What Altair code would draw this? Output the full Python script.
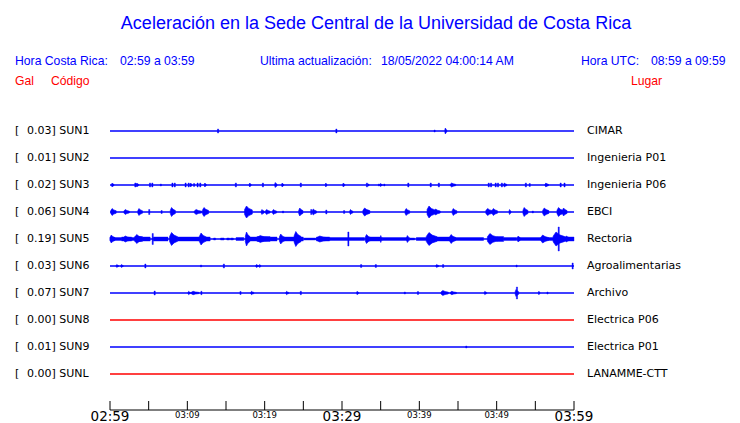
import altair as alt
import pandas as pd

# ---------------- data ----------------
codes = ["SUN1", "SUN2", "SUN3", "SUN4", "SUN5", "SUN6", "SUN7", "SUN8", "SUN9", "SUNL"]
gal = ["0.03", "0.01", "0.02", "0.06", "0.19", "0.03", "0.07", "0.00", "0.01", "0.00"]
places = ["CIMAR", "Ingenieria P01", "Ingenieria P06", "EBCI", "Rectoria",
          "Agroalimentarias", "Archivo", "Electrica P06", "Electrica P01", "LANAMME-CTT"]

# bursts per station: [start minute, end minute, peak half amplitude (counts)]
sun1 = [[13.9, 14.05, 2], [29.2, 29.35, 2], [41.9, 42.05, 1], [43.3, 43.55, 3]]
sun2 = []
sun3 = [[0.2, 0.5, 2], [3.2, 3.35, 2], [3.4, 3.7, 2], [5.1, 5.25, 2], [5.4, 5.55, 2], [6.5, 6.65, 1],
        [8.0, 8.15, 2], [8.3, 8.45, 2], [9.7, 9.85, 2], [10.1, 10.25, 2], [10.35, 10.6, 2],
        [10.8, 10.95, 1.5], [11.25, 11.4, 2], [11.6, 11.75, 2], [12.2, 12.45, 2], [16.2, 16.35, 2],
        [18.0, 18.25, 2], [19.7, 19.85, 2], [21.3, 21.6, 2.5], [22.2, 22.45, 2], [24.6, 24.75, 2],
        [27.85, 28.05, 2], [30.1, 30.35, 2], [33.15, 33.3, 2], [33.35, 33.5, 1], [34.7, 34.85, 1],
        [34.9, 35.2, 1.5], [35.4, 35.55, 1], [38.5, 38.65, 2], [41.4, 41.55, 2], [42.45, 42.6, 2],
        [44.0, 44.7, 2], [48.9, 49.05, 2], [49.2, 49.35, 2], [49.8, 49.95, 2], [50.1, 50.25, 2],
        [50.6, 50.75, 2], [50.9, 51.3, 2], [53.7, 53.85, 2], [54.2, 54.35, 1.5], [56.25, 56.7, 2],
        [58.2, 58.35, 2], [58.7, 58.85, 2]]
sun4 = [[0.1, 0.8, 3.5], [1.8, 2.5, 2.5], [3.6, 4.2, 3.5], [5.0, 5.15, 2.5], [6.6, 6.75, 1.5],
        [7.8, 8.45, 4.5], [10.9, 11.85, 2.5], [11.95, 12.75, 4.5], [17.4, 18.4, 6],
        [19.55, 19.95, 2.5], [20.1, 20.7, 2.5], [21.0, 21.55, 2.5], [22.3, 22.45, 1], [24.4, 24.95, 4],
        [25.95, 26.1, 2.5], [26.15, 26.7, 3], [27.9, 28.05, 2], [30.2, 30.35, 1.5], [31.0, 31.4, 2.5],
        [32.7, 33.6, 4], [38.15, 38.75, 3.5], [41.0, 42.0, 6], [41.9, 42.7, 3],
        [44.25, 44.85, 3.5], [48.6, 49.5, 3.5], [49.4, 50.1, 3.5], [51.6, 51.85, 2.5], [53.4, 54.05, 4.5],
        [54.6, 54.75, 1], [55.95, 56.75, 4], [57.8, 58.6, 4.5], [58.5, 59.1, 4]]
# continuous band of the Rectoria station: [start, end, half amplitude]
sun5_band = [[0.0, 1.5, 1.5], [1.5, 2.8, 2], [2.8, 3.2, 1.5], [3.2, 4.2, 2.5], [4.2, 5.2, 2],
             [5.6, 7.5, 2], [8.7, 11.6, 2], [12.4, 12.95, 2], [13.4, 13.65, 1], [14.3, 14.75, 1],
             [15.1, 15.45, 1], [15.6, 15.95, 1], [16.3, 17.3, 1.5], [18.0, 19.0, 2], [19.0, 20.7, 2.5],
             [20.7, 21.6, 2], [22.5, 23.9, 2], [24.6, 25.0, 2], [25.1, 26.6, 1], [26.7, 28.4, 2],
             [28.4, 32.9, 1.5], [33.6, 35.0, 2], [35.2, 38.4, 1.5], [38.8, 39.4, 1], [39.6, 41.0, 1.5],
             [42.2, 44.0, 2], [44.6, 48.3, 1.5], [50.0, 50.9, 2.5], [50.9, 52.6, 1.5], [52.7, 53.0, 2],
             [53.0, 55.8, 1.5], [56.6, 57.5, 1.5], [58.6, 60.0, 2]]
sun5 = [[0.0, 0.65, 4], [1.7, 2.8, 3], [3.2, 4.2, 4.5], [5.45, 5.6, 5.5], [7.7, 8.75, 6.5],
        [11.55, 12.45, 6], [17.5, 18.1, 7], [19.0, 20.7, 3.5], [21.9, 22.6, 5], [23.8, 24.7, 7.5],
        [26.7, 28.4, 3], [30.75, 30.9, 7], [33.0, 33.7, 4.5], [34.95, 35.2, 3.5], [38.35, 38.75, 3.5],
        [40.9, 42.3, 6.5], [43.9, 44.7, 4.5], [48.8, 50.1, 5.5], [52.7, 53.0, 3], [55.7, 56.7, 4],
        [57.3, 58.8, 7], [57.95, 58.1, 12], [58.8, 59.6, 3]]
sun6 = [[0.8, 1.1, 1.5], [1.4, 1.7, 1.5], [4.5, 4.65, 2], [11.7, 11.85, 1], [14.65, 14.8, 2],
        [18.85, 19.2, 1.5], [19.3, 19.5, 1.5], [32.4, 32.55, 1.5], [34.3, 34.45, 1.5],
        [42.15, 42.5, 1.5], [43.0, 43.15, 1.5], [52.5, 52.65, 1], [59.75, 59.9, 3]]
sun7 = [[5.7, 5.85, 2], [10.1, 10.4, 1.7], [10.5, 11.5, 1.7], [11.75, 11.9, 1.7], [16.8, 16.95, 1.5],
        [18.2, 18.6, 1.7], [22.75, 23.1, 1.7], [24.6, 24.75, 1.7], [31.9, 32.15, 1.7],
        [38.05, 38.2, 1], [39.75, 39.9, 1.5], [42.8, 43.75, 2.5], [44.0, 44.8, 1.7], [48.4, 48.7, 1.7],
        [52.4, 52.85, 3.5], [52.55, 52.7, 6], [55.4, 55.6, 1.7], [56.5, 56.65, 1]]
sun8 = []
sun9 = [[46.0, 46.15, 1]]
sunl = []

tick_minutes = [0, 5, 10, 15, 20, 25, 30, 35, 40, 45, 50, 55, 60]
major_minutes = [0, 30, 60]
major_labels = ["02:59", "03:29", "03:59"]
minor_minutes = [10, 20, 40, 50]
minor_labels = ["03:09", "03:19", "03:39", "03:49"]

# ---------------- tables ----------------
all_bursts = [sun1, sun2, sun3, sun4, sun5, sun6, sun7, sun8, sun9, sunl]
gain = 1 / 27.0  # rows per count
# envelope shape of a burst: fast onset, slower decay (fraction of width, fraction of peak)
envelope = [(0.0, 0.4), (0.25, 1.0), (0.55, 0.6), (1.0, 0.35)]
narrow_rows, spindle_rows = [], []
bid = 0
for i, lst in enumerate(all_bursts):
    for t0, t1, a in lst:
        if t1 - t0 <= 0.16:
            narrow_rows.append({"t0": t0, "t1": t1, "lo": i - a * gain, "hi": i + a * gain})
        else:
            bid += 1
            for fx, fa in envelope:
                t = t0 + fx * (t1 - t0)
                spindle_rows.append({"id": bid, "t": t, "lo": i - a * fa * gain, "hi": i + a * fa * gain})
band_rows = [{"t0": t0, "t1": t1, "lo": 4 - a * gain, "hi": 4 + a * gain} for t0, t1, a in sun5_band]

narrow_df = pd.DataFrame(narrow_rows + band_rows)
spindle_df = pd.DataFrame(spindle_rows)

rows_df = pd.DataFrame({
    "row": list(range(len(codes))),
    "x0": [0] * len(codes),
    "x1": [60] * len(codes),
    "status": ["sin señal" if g == "0.00" else "activa" for g in gal],
    "label": [f"{g}] {c}" for g, c in zip(gal, codes)],
    "place": places,
})

W, H = 464, 309
LEFT, TOP = 110, 101  # page position of plot origin
PAGE = 8

x_scale = alt.Scale(domain=[0, 60], nice=False, zero=False)
y_scale = alt.Scale(domain=[-30 / 27, 279 / 27], reverse=True, nice=False, zero=False)
BLUE, RED = "#0000ff", "#ff0000"

base_rows = alt.Chart(rows_df)

baselines = base_rows.mark_rule(strokeWidth=1.5).encode(
    x=alt.X("x0:Q", scale=x_scale, axis=None),
    x2="x1:Q",
    y=alt.Y("row:Q", scale=y_scale, axis=None),
    color=alt.Color("status:N", scale=alt.Scale(domain=["activa", "sin señal"],
                                                range=[BLUE, RED]), legend=None),
)

narrow = alt.Chart(narrow_df).mark_rect(color=BLUE, stroke=BLUE, strokeWidth=0.4).encode(
    x=alt.X("t0:Q", scale=x_scale, axis=None),
    x2="t1:Q",
    y=alt.Y("lo:Q", scale=y_scale, axis=None),
    y2="hi:Q",
)

spindles = alt.Chart(spindle_df).mark_area(color=BLUE, stroke=BLUE, strokeWidth=0.6,
                                           interpolate="linear").encode(
    x=alt.X("t:Q", scale=x_scale, axis=None),
    y=alt.Y("lo:Q", scale=y_scale, axis=None),
    y2="hi:Q",
    detail="id:N",
)

FONT_ROW = "DejaVu Sans"
bracket = base_rows.mark_text(align="left", baseline="middle", font=FONT_ROW, fontSize=11,
                              color="black", text="[").encode(
    x=alt.value(15 - LEFT), y=alt.Y("row:Q", scale=y_scale))
codes_txt = base_rows.mark_text(align="left", baseline="middle", font=FONT_ROW, fontSize=11,
                                color="black").encode(
    x=alt.value(27 - LEFT), y=alt.Y("row:Q", scale=y_scale), text="label:N")
places_txt = base_rows.mark_text(align="left", baseline="middle", font=FONT_ROW, fontSize=11,
                                 color="black").encode(
    x=alt.value(587 - LEFT), y=alt.Y("row:Q", scale=y_scale), text="place:N")

ticks_df = pd.DataFrame({"t": tick_minutes})
ticks = alt.Chart(ticks_df).mark_rule(color="black", strokeWidth=1).encode(
    x=alt.X("t:Q", scale=x_scale), y=alt.value(H - 9), y2=alt.value(H))
domain = base_rows.transform_filter("datum.row == 0").mark_rule(color="black", strokeWidth=1).encode(
    x=alt.X("x0:Q", scale=x_scale), x2="x1:Q", y=alt.value(H))

major_txt = alt.Chart(pd.DataFrame({"t": major_minutes, "lab": major_labels})).mark_text(
    align="center", baseline="alphabetic", font="DejaVu Sans", fontSize=13.5, color="black").encode(
    x=alt.X("t:Q", scale=x_scale), y=alt.value(421 - TOP), text="lab:N")
minor_txt = alt.Chart(pd.DataFrame({"t": minor_minutes, "lab": minor_labels})).mark_text(
    align="center", baseline="alphabetic", font="DejaVu Sans", fontSize=8.5, color="black").encode(
    x=alt.X("t:Q", scale=x_scale), y=alt.value(418 - TOP), text="lab:N")


def label(text, x, y, size, color, align="left", font="Liberation Sans"):
    return alt.Chart(pd.DataFrame({"s": [text]})).mark_text(
        align=align, baseline="alphabetic", fontSize=size, color=color, font=font).encode(
        x=alt.value(x - LEFT), y=alt.value(y - TOP), text="s:N")


headers = [
    label("Aceleración en la Sede Central de la Universidad de Costa Rica", 376, 29, 18, BLUE, "center"),
    label("Hora Costa Rica:", 15, 65, 12.2, BLUE),
    label("02:59 a 03:59", 120, 65, 12.2, BLUE),
    label("Ultima actualización:", 260, 65, 12.2, BLUE),
    label("18/05/2022 04:00:14 AM", 381, 65, 12.2, BLUE),
    label("Hora UTC:", 581, 65, 12.2, BLUE),
    label("08:59 a 09:59", 651, 65, 12.2, BLUE),
    label("Gal", 15, 85, 12.2, RED),
    label("Código", 51, 85, 12.2, RED),
    label("Lugar", 631, 85, 12.2, RED),
]

chart = alt.layer(
    baselines, narrow, spindles, bracket, codes_txt, places_txt, ticks, domain,
    major_txt, minor_txt, *headers
).properties(
    width=W, height=H,
    autosize=alt.AutoSizeParams(type="none"),
    padding={"left": LEFT - PAGE, "top": TOP - PAGE,
             "right": 740 - PAGE - (LEFT + W), "bottom": 423 - (TOP + H)},
    background="white",
).configure_view(stroke=None)

chart.save("out.html", embed_options={"renderer": "svg", "actions": False})
